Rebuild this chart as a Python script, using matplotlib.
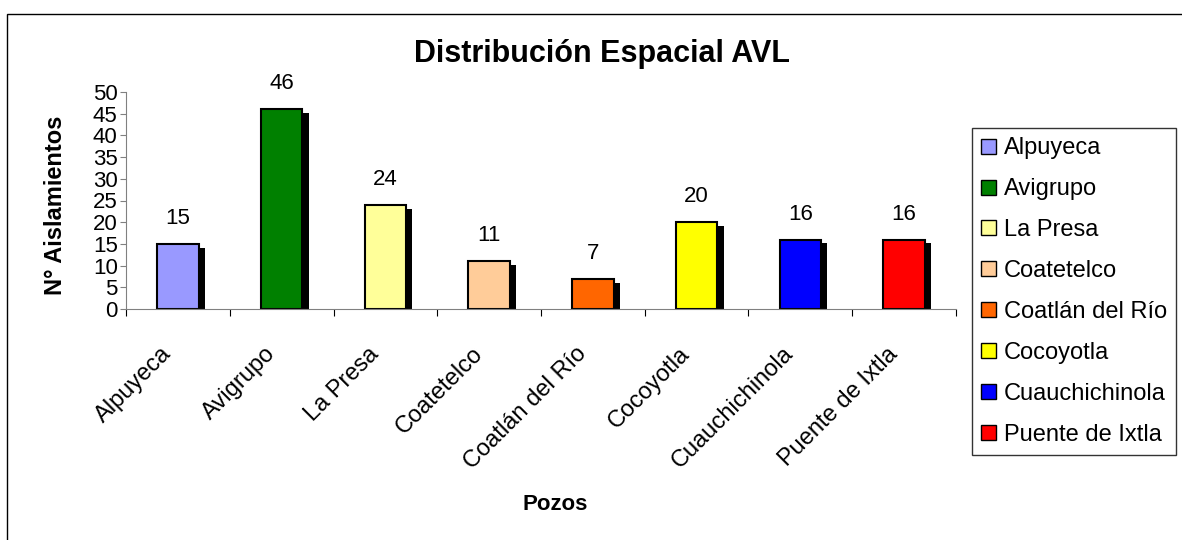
import matplotlib.pyplot as plt
import matplotlib.transforms as mtransforms
from matplotlib.patches import Rectangle, Patch

plt.rcParams['font.family'] = ['Liberation Sans', 'DejaVu Sans']

# Data
pozos = ['Alpuyeca', 'Avigrupo', 'La Presa', 'Coatetelco', 'Coatlán del Río',
         'Cocoyotla', 'Cuauchichinola', 'Puente de Ixtla']
aislamientos = [15, 46, 24, 11, 7, 20, 16, 16]
colores = ['#9999FF', '#008000', '#FFFF99', '#FFCC99', '#FF6600',
           '#FFFF00', '#0000FF', '#FF0000']

fig = plt.figure(figsize=(11.82, 5.4), dpi=100)
ax = fig.add_axes([126 / 1182, 1 - 309 / 540, 830 / 1182, 217 / 540])

x = list(range(len(pozos)))
w = 0.4

# shadows
ax.bar([i + 0.06 for i in x], [v - 0.9 for v in aislamientos], width=w,
       color='black', zorder=1)
ax.bar(x, aislamientos, width=w, color=colores, edgecolor='black',
       linewidth=1.5, zorder=2)

for i, v in zip(x, aislamientos):
    ax.text(i, v + 4.6, str(v), ha='center', va='baseline', fontsize=16)

ax.set_xlim(-0.5, len(pozos) - 0.5)
ax.set_ylim(0, 50)
ax.set_yticks(range(0, 51, 5))
ax.tick_params(axis='y', labelsize=16, length=4, pad=2, color='#808080')
ax.set_xticks([i - 0.5 for i in range(len(pozos) + 1)], minor=False)
ax.set_xticklabels([])
ax.set_xticks(x, minor=True)
ax.set_xticklabels(pozos, minor=True, rotation=45, ha='right', va='center',
                   rotation_mode='anchor', fontsize=17)
ax.tick_params(axis='x', which='minor', length=0, pad=30)
shift = mtransforms.ScaledTranslation(-10 / 100, 0, fig.dpi_scale_trans)
for lab in ax.get_xticklabels(minor=True):
    lab.set_transform(lab.get_transform() + shift)
ax.tick_params(axis='x', which='major', length=5, direction='out', color='black')
for s in ['top', 'right']:
    ax.spines[s].set_visible(False)
ax.spines['left'].set_color('#808080')
ax.spines['bottom'].set_color('#808080')

ax.set_ylabel('N° Aislamientos', fontsize=17, fontweight='bold', va='center')
ax.yaxis.set_label_coords(-0.085, 0.48)
ax.set_xlabel('Pozos', fontsize=16, fontweight='bold', va='center')
ax.xaxis.set_label_coords(0.517, -0.9)

fig.text(602 / 1182, 1 - 54 / 540, 'Distribución Espacial AVL', ha='center',
         va='center', fontsize=22, fontweight='bold')

handles = [Patch(facecolor=c, edgecolor='black', label=p)
           for c, p in zip(colores, pozos)]
leg = fig.legend(handles=handles, loc='upper left',
                 bbox_to_anchor=(972 / 1182, 1 - 128 / 540), fontsize=17,
                 frameon=True, fancybox=False, edgecolor='black',
                 handlelength=0.6, handleheight=0.6, handletextpad=0.35,
                 labelspacing=0.8, borderpad=0.4, borderaxespad=0)
leg.get_frame().set_linewidth(1.0)

fig.patches.append(Rectangle((7 / 1182, -0.1), 1.2, 1 - 14 / 540 + 0.1,
                             transform=fig.transFigure, fill=False,
                             edgecolor='black', linewidth=1.0))

fig.savefig('out.png', dpi=100)
